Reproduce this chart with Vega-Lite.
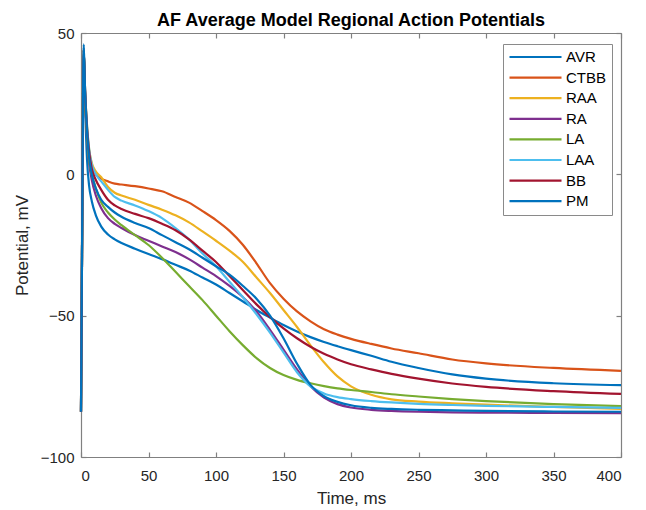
{
  "$schema": "https://vega.github.io/schema/vega-lite/v6.json",
  "width": 540,
  "height": 424,
  "autosize": {"type": "none"},
  "padding": {"left": 81, "top": 33, "right": 25, "bottom": 53},
  "background": "white",
  "title": {"text": "AF Average Model Regional Action Potentials", "fontSize": 18, "fontWeight": "bold", "font": "Liberation Sans", "color": "#000000", "offset": -4},
  "config": {
    "view": {"stroke": null},
    "font": "Liberation Sans",
    "axis": {"domainColor": "#808080", "tickColor": "#808080", "domainWidth": 1.2, "tickWidth": 1.2, "labelColor": "#262626", "labelFontSize": 15, "titleFontSize": 17, "titleFontWeight": "normal", "titleColor": "#262626", "grid": false, "tickSize": -5, "labelFont": "Liberation Sans", "titleFont": "Liberation Sans"}
  },
  "data": {"values": [
    {"t": 0, "AVR": -84, "CTBB": -84, "RAA": -84, "RA": -84, "LA": -84, "LAA": -84, "BB": -84, "PM": -84},
    {"t": 1, "AVR": -10, "CTBB": -10, "RAA": -10, "RA": -10, "LA": -10, "LAA": -10, "BB": -10, "PM": -10},
    {"t": 2, "AVR": 45, "CTBB": 41, "RAA": 44, "RA": 44, "LA": 44, "LAA": 44, "BB": 44, "PM": 46},
    {"t": 3, "AVR": 25, "CTBB": 28, "RAA": 30, "RA": 28, "LA": 28, "LAA": 30, "BB": 30, "PM": 30},
    {"t": 4.5, "AVR": 5, "CTBB": 15, "RAA": 17, "RA": 13, "LA": 14, "LAA": 17, "BB": 16, "PM": 15},
    {"t": 6, "AVR": -4, "CTBB": 8, "RAA": 9, "RA": 4, "LA": 5, "LAA": 9, "BB": 8, "PM": 6},
    {"t": 8, "AVR": -9.5, "CTBB": 3, "RAA": 4, "RA": -2, "LA": 0, "LAA": 3.5, "BB": 2, "PM": 0},
    {"t": 11, "AVR": -14.5, "CTBB": 0, "RAA": 1, "RA": -7.5, "LA": -5, "LAA": 0, "BB": -2, "PM": -5},
    {"t": 15, "AVR": -18.5, "CTBB": -1.5, "RAA": -1, "RA": -12, "LA": -10, "LAA": -2.5, "BB": -5.5, "PM": -9},
    {"t": 20, "AVR": -21.3, "CTBB": -2.5, "RAA": -4.5, "RA": -15.5, "LA": -13.5, "LAA": -5.5, "BB": -9, "PM": -11.5},
    {"t": 25, "AVR": -23, "CTBB": -3.3, "RAA": -6.5, "RA": -17.5, "LA": -16, "LAA": -8, "BB": -11, "PM": -13.5},
    {"t": 30, "AVR": -24.3, "CTBB": -3.6, "RAA": -7.5, "RA": -19, "LA": -18, "LAA": -9.3, "BB": -12.3, "PM": -15},
    {"t": 40, "AVR": -26.3, "CTBB": -4.2, "RAA": -9, "RA": -21.5, "LA": -21.5, "LAA": -11, "BB": -14, "PM": -17.2},
    {"t": 50, "AVR": -28.2, "CTBB": -5, "RAA": -10.8, "RA": -23.5, "LA": -25, "LAA": -13, "BB": -15.5, "PM": -19},
    {"t": 60, "AVR": -30, "CTBB": -6, "RAA": -12.5, "RA": -25.5, "LA": -29.5, "LAA": -15.5, "BB": -17.5, "PM": -21.5},
    {"t": 70, "AVR": -32, "CTBB": -8, "RAA": -14.5, "RA": -27.5, "LA": -34.5, "LAA": -19, "BB": -19.8, "PM": -24},
    {"t": 80, "AVR": -34, "CTBB": -10, "RAA": -17, "RA": -30, "LA": -39.5, "LAA": -23, "BB": -23, "PM": -26.5},
    {"t": 90, "AVR": -36.5, "CTBB": -13, "RAA": -20.2, "RA": -33, "LA": -44.5, "LAA": -28, "BB": -27, "PM": -29.5},
    {"t": 100, "AVR": -39, "CTBB": -16.2, "RAA": -23.5, "RA": -36, "LA": -50, "LAA": -32.5, "BB": -31, "PM": -32.5},
    {"t": 110, "AVR": -42, "CTBB": -20, "RAA": -27, "RA": -39.5, "LA": -55.5, "LAA": -38, "BB": -36, "PM": -35.5},
    {"t": 120, "AVR": -45, "CTBB": -25, "RAA": -31, "RA": -43.5, "LA": -60.5, "LAA": -43.5, "BB": -41, "PM": -39.5},
    {"t": 130, "AVR": -48, "CTBB": -31.5, "RAA": -36.5, "RA": -48.5, "LA": -65, "LAA": -49.5, "BB": -46, "PM": -44},
    {"t": 140, "AVR": -50.7, "CTBB": -38.5, "RAA": -42, "RA": -55, "LA": -68.5, "LAA": -56, "BB": -50.5, "PM": -50},
    {"t": 150, "AVR": -53.3, "CTBB": -44, "RAA": -48, "RA": -62, "LA": -71, "LAA": -63, "BB": -54.5, "PM": -58},
    {"t": 160, "AVR": -55.6, "CTBB": -48.5, "RAA": -54, "RA": -69, "LA": -72.7, "LAA": -70, "BB": -58, "PM": -67},
    {"t": 170, "AVR": -57.6, "CTBB": -52, "RAA": -60.5, "RA": -75, "LA": -73.9, "LAA": -75, "BB": -61, "PM": -74.5},
    {"t": 180, "AVR": -59.3, "CTBB": -54.8, "RAA": -66.5, "RA": -79, "LA": -74.9, "LAA": -77.5, "BB": -63.5, "PM": -78.5},
    {"t": 190, "AVR": -60.8, "CTBB": -56.7, "RAA": -71.5, "RA": -81.3, "LA": -75.7, "LAA": -78.8, "BB": -65.5, "PM": -80.5},
    {"t": 200, "AVR": -62.2, "CTBB": -58.2, "RAA": -75, "RA": -82.5, "LA": -76.3, "LAA": -79.5, "BB": -67.2, "PM": -81.7},
    {"t": 215, "AVR": -64.2, "CTBB": -60, "RAA": -78, "RA": -83.3, "LA": -77, "LAA": -80.2, "BB": -69, "PM": -82.6},
    {"t": 230, "AVR": -66.3, "CTBB": -61.6, "RAA": -79.6, "RA": -83.7, "LA": -77.8, "LAA": -80.7, "BB": -70.6, "PM": -83},
    {"t": 250, "AVR": -68.5, "CTBB": -63.3, "RAA": -80.4, "RA": -84, "LA": -78.6, "LAA": -81.2, "BB": -72.3, "PM": -83.3},
    {"t": 275, "AVR": -70.8, "CTBB": -65.5, "RAA": -81, "RA": -84.2, "LA": -79.5, "LAA": -81.6, "BB": -74, "PM": -83.5},
    {"t": 300, "AVR": -72.3, "CTBB": -66.9, "RAA": -81.5, "RA": -84.3, "LA": -80.2, "LAA": -81.9, "BB": -75.2, "PM": -83.7},
    {"t": 350, "AVR": -73.9, "CTBB": -68.5, "RAA": -82.3, "RA": -84.4, "LA": -81.3, "LAA": -82.3, "BB": -76.7, "PM": -83.9},
    {"t": 400, "AVR": -74.6, "CTBB": -69.5, "RAA": -83, "RA": -84.5, "LA": -82, "LAA": -82.6, "BB": -77.7, "PM": -84}
  ]},
  "transform": [{"fold": ["AVR", "CTBB", "RAA", "RA", "LA", "LAA", "BB", "PM"], "as": ["region", "v"]}],
  "layer": [
    {
      "mark": {"type": "line", "opacity": 0},
      "encoding": {
        "x": {"field": "t", "type": "quantitative", "scale": {"domain": [0, 400], "nice": false, "zero": false}, "axis": {"orient": "top", "values": [0, 50, 100, 150, 200, 250, 300, 350, 400], "labels": false, "title": null}},
        "y": {"field": "v", "type": "quantitative", "scale": {"domain": [-100, 50], "nice": false, "zero": false}, "axis": {"orient": "right", "values": [-100, -50, 0, 50], "labels": false, "title": null}},
        "detail": {"field": "region"}
      }
    },
    {
      "mark": {"type": "line", "strokeWidth": 2.2, "interpolate": "monotone"},
      "encoding": {
        "x": {"field": "t", "type": "quantitative", "axis": {"orient": "bottom", "values": [0, 50, 100, 150, 200, 250, 300, 350, 400], "labelPadding": 16, "title": "Time, ms", "titlePadding": 7}},
        "y": {"field": "v", "type": "quantitative", "axis": {"orient": "left", "values": [-100, -50, 0, 50], "labelPadding": 12, "title": "Potential, mV", "titlePadding": 9}},
        "color": {"field": "region", "type": "nominal", "sort": ["AVR", "CTBB", "RAA", "RA", "LA", "LAA", "BB", "PM"],
          "scale": {"domain": ["AVR", "CTBB", "RAA", "RA", "LA", "LAA", "BB", "PM"], "range": ["#0072BD", "#D95319", "#EDB120", "#7E2F8E", "#77AC30", "#4DBEEE", "#A2142F", "#0072BD"]},
          "legend": {"orient": "none", "legendX": 422, "legendY": 11, "title": null, "symbolType": "stroke", "symbolSize": 2704, "symbolStrokeWidth": 2.2, "labelFontSize": 15, "labelColor": "#000000", "labelOffset": 3, "labelExpr": "datum.label + '  '", "strokeColor": "#8a8a8a", "fillColor": "white", "padding": 5, "rowPadding": 4.6, "clipHeight": 16, "labelFont": "Liberation Sans"}
        }
      }
    }
  ],
  "resolve": {"axis": {"x": "independent", "y": "independent"}}
}
